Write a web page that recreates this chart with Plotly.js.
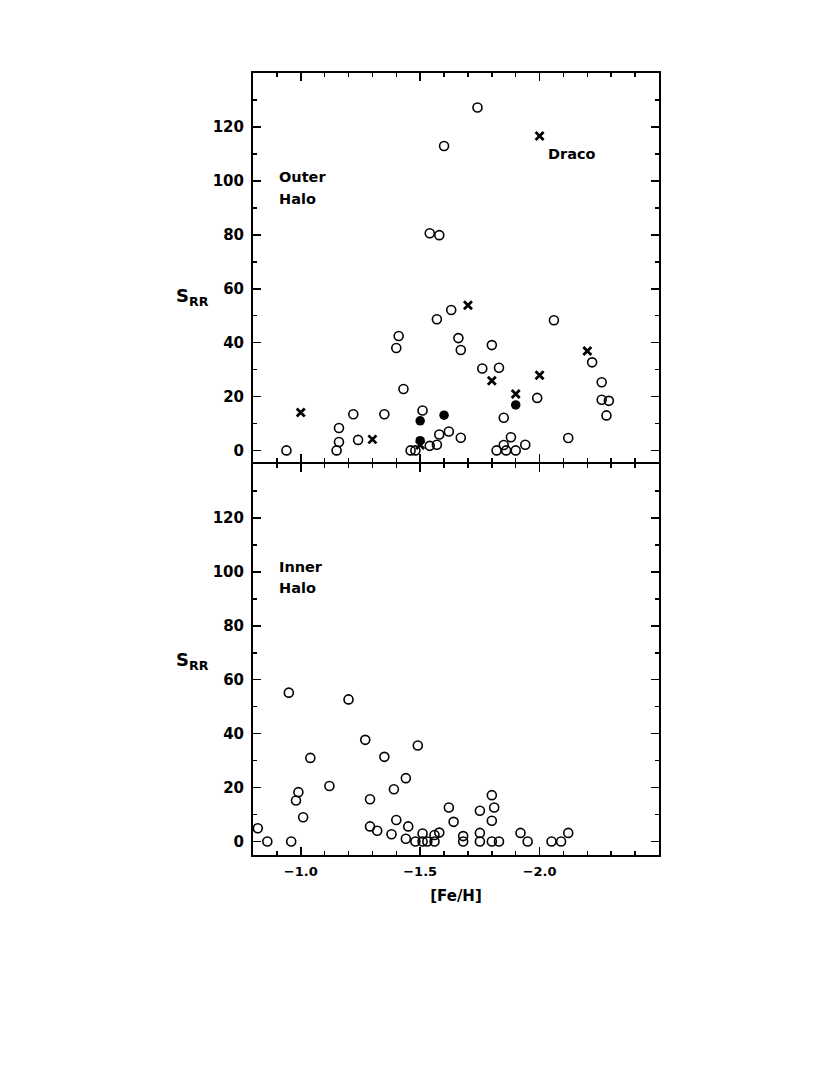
<!DOCTYPE html>
<html>
<head>
<meta charset="utf-8">
<script src="https://cdn.plot.ly/plotly-3.0.1.min.js"></script>
<style>html,body{margin:0;padding:0;background:#fff;}</style>
</head>
<body>
<div id="chart" style="width:830px;height:1075px;"></div>
<script>
// Outer halo: open circles
const outerOpenFe = [-0.94,-1.15,-1.16,-1.16,-1.22,-1.24,-1.35,-1.40,-1.41,-1.43,-1.46,-1.48,-1.51,-1.54,-1.57,-1.57,-1.58,-1.62,-1.63,-1.66,-1.67,-1.67,-1.76,-1.80,-1.83,-1.82,-1.85,-1.85,-1.86,-1.88,-1.90,-1.94,-1.99,-2.06,-2.12,-2.22,-2.26,-2.26,-2.29,-2.28,-1.74,-1.60,-1.54,-1.58];
const outerOpenS  = [0,0,3.1,8.3,13.4,3.9,13.4,38.0,42.5,22.8,0,0,14.8,1.7,2.1,48.7,5.9,7.0,52.1,41.7,37.3,4.7,30.4,39.1,30.7,0,12.1,2.0,0,4.9,0,2.1,19.5,48.3,4.6,32.7,25.3,18.8,18.4,13.0,127.3,113.0,80.6,79.9];
// Outer halo: filled circles
const outerFilledFe = [-1.50,-1.50,-1.60,-1.90];
const outerFilledS  = [11.0,3.6,13.1,16.9];
// Outer halo: crosses (dwarf spheroidals)
const outerCrossFe = [-1.00,-1.30,-1.50,-1.70,-1.80,-1.90,-2.00,-2.20,-2.00];
const outerCrossS  = [14.1,4.1,2.0,53.9,25.9,20.9,27.9,36.9,116.7];
// Inner halo: open circles
const innerFe = [-0.82,-0.86,-0.95,-0.96,-0.98,-0.99,-1.01,-1.04,-1.12,-1.20,-1.27,-1.29,-1.29,-1.32,-1.35,-1.38,-1.39,-1.40,-1.44,-1.44,-1.45,-1.48,-1.49,-1.51,-1.51,-1.53,-1.56,-1.56,-1.58,-1.62,-1.64,-1.68,-1.68,-1.75,-1.75,-1.75,-1.80,-1.81,-1.80,-1.80,-1.83,-1.92,-1.95,-2.05,-2.09,-2.12];
const innerS  = [4.9,0,55.2,0,15.2,18.3,9.0,31.0,20.6,52.7,37.7,15.7,5.6,4.0,31.4,2.7,19.4,8.0,23.5,1.0,5.6,0,35.6,3.0,0,0,2.4,0,3.3,12.6,7.3,2.0,0,11.4,3.2,0,17.2,12.6,7.7,0,0,3.2,0,0,0,3.2];

const xTickVals = [-1.0,-1.5,-2.0];
const xTickText = ['\u22121.0','\u22121.5','\u22122.0'];
const yTickVals = [0,20,40,60,80,100,120];

const FONT = 'DejaVu Sans, Verdana, sans-serif';
const openM = {symbol:'circle-open', size:9, color:'#000', line:{width:1.6, color:'#000'}};
const fillM = {symbol:'circle', size:9.5, color:'#000', line:{width:0}};
const crossM = {symbol:'x-thin', size:8, color:'#000', line:{width:2.8, color:'#000'}};

const traces = [
  {x:outerOpenFe, y:outerOpenS, xaxis:'x2', yaxis:'y2', mode:'markers', type:'scatter', marker:openM},
  {x:outerCrossFe, y:outerCrossS, xaxis:'x2', yaxis:'y2', mode:'markers', type:'scatter', marker:crossM},
  {x:outerFilledFe, y:outerFilledS, xaxis:'x2', yaxis:'y2', mode:'markers', type:'scatter', marker:fillM},
  {x:innerFe, y:innerS, xaxis:'x', yaxis:'y', mode:'markers', type:'scatter', marker:openM}
];

function xax(showLabels, anchor){
  return {
    range:[-0.8,-2.5], anchor:anchor, tickmode:'array', tickvals:xTickVals, ticktext:xTickText,
    showticklabels:showLabels, ticks:'inside', ticklen:8, tickwidth:1.5, tickcolor:'#000',
    showline:true, linewidth:2, linecolor:'#000', mirror:'allticks', showgrid:false, zeroline:false,
    tickfont:{family:FONT, size:13, color:'#000', weight:'bold'},
    minor:{ticks:'inside', ticklen:4, tickwidth:1.5, tickcolor:'#000', dtick:0.1, tick0:-1.0, showgrid:false}
  };
}
function yax(domain, anchor, range){
  return {
    range:range, domain:domain, anchor:anchor, tickmode:'array', tickvals:yTickVals,
    ticks:'inside', ticklen:8, tickwidth:1.5, tickcolor:'#000',
    showline:true, linewidth:2, linecolor:'#000', mirror:'allticks', showgrid:false, zeroline:false,
    ticklabelstandoff:4,
    tickfont:{family:FONT, size:15, color:'#000', weight:'bold'},
    minor:{ticks:'inside', ticklen:4, tickwidth:1.5, tickcolor:'#000', dtick:10, tick0:0, showgrid:false}
  };
}

const lab = {family:FONT, size:14.5, color:'#000', weight:'bold'};
const gap = 2/782;
const layout = {
  width:830, height:1075, showlegend:false,
  paper_bgcolor:'#fff', plot_bgcolor:'#fff',
  margin:{l:253, r:171, t:73, b:220},
  xaxis: Object.assign(xax(true,'y'), {ticklabelstandoff:3, title:{text:'[Fe/H]', font:{family:FONT, size:15, color:'#000', weight:'bold'}, standoff:13}}),
  yaxis: yax([0,0.5],'x',[-5,140]),
  xaxis2: xax(false,'y2'),
  yaxis2: yax([0.5+gap,1],'x2',[-4.3,140.1]),
  annotations:[
    {xref:'x2', yref:'y2', x:-0.9, y:101.6, text:'Outer', showarrow:false, xanchor:'left', yanchor:'middle', font:lab},
    {xref:'x2', yref:'y2', x:-0.9, y:93.5, text:'Halo', showarrow:false, xanchor:'left', yanchor:'middle', font:lab},
    {xref:'x2', yref:'y2', x:-2.028, y:110, text:'Draco', showarrow:false, xanchor:'left', yanchor:'middle', font:lab},
    {xref:'x', yref:'y', x:-0.9, y:101.9, text:'Inner', showarrow:false, xanchor:'left', yanchor:'middle', font:lab},
    {xref:'x', yref:'y', x:-0.9, y:93.9, text:'Halo', showarrow:false, xanchor:'left', yanchor:'middle', font:lab},
    {xref:'paper', yref:'y2', x:-0.195, y:57, text:'S<sub>RR</sub>', showarrow:false, xanchor:'left', yanchor:'middle', font:{family:FONT, size:18, color:'#000', weight:'bold'}},
    {xref:'paper', yref:'y', x:-0.195, y:67, text:'S<sub>RR</sub>', showarrow:false, xanchor:'left', yanchor:'middle', font:{family:FONT, size:18, color:'#000', weight:'bold'}}
  ]
};
Plotly.newPlot('chart', traces, layout, {staticPlot:true, displayModeBar:false});
</script>
</body>
</html>
